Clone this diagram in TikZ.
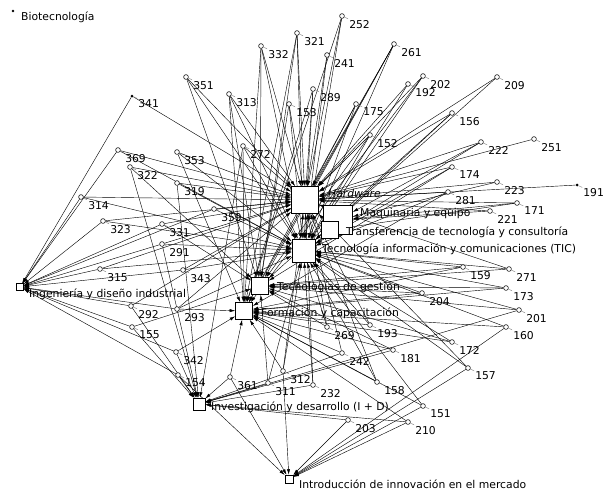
\documentclass[tikz,border=0pt]{standalone}
\usepackage{fontspec}
\setmainfont{DejaVu Sans}
\usetikzlibrary{arrows.meta,positioning}
\pgfdeclarelayer{edges}
\pgfsetlayers{edges,main}
\tikzset{
  tag/.style={font=\fontsize{10.8}{12}\selectfont, inner sep=1pt},
  hub/.style={draw, fill=white, line width=0.6pt, minimum size=#1, inner sep=0pt},
  item/.style={circle, draw, fill=white, line width=0.55pt, minimum size=4.8pt, inner sep=0pt},
  itemdot/.style={circle, fill, minimum size=3pt, inner sep=0pt},
  numpin/.style={pin={[tag, pin distance=4pt, pin edge={line width=0.4pt}]-25:#1}},
  link/.style={line width=0.42pt, -{Latex[length=5.5pt,width=3.2pt]}},
}
\begin{document}
\begin{tikzpicture}[x=1pt, y=-1pt]
\useasboundingbox (0,0) rectangle (605,490);
% categories
\node[itemdot, minimum size=2.6pt] (bio) at (13,11) {};
\node[tag, anchor=west] (biolab) at (20,17) {Biotecnología};
\node[hub=27pt] (hw) at (305,200) {};
\node[hub=29pt] (maq) at (338,220) {};
\node[hub=17pt] (tra) at (329.5,230) {};
\node[hub=23pt] (tic) at (303.5,250.5) {};
\node[hub=17pt] (ges) at (260,286) {};
\node[hub=17pt] (for) at (244,311) {};
\node[hub=6.5pt] (ing) at (20,287) {};
\node[hub=12pt] (imd) at (199,404) {};
\node[hub=8pt] (intro) at (289,479) {};
\node[tag, anchor=west] (hwlab) at (327,193) {\itshape Hardware};
\node[tag, anchor=west] (maqlab) at (359,214) {Maquinaria y equipo};
\node[tag, anchor=west] (tralab) at (345,232) {Transferencia de tecnología y consultoría};
\node[tag, anchor=west] (ticlab) at (321,249) {Tecnología información y comunicaciones (TIC)};
\node[tag, anchor=west] (geslab) at (276,287) {Tecnologías de gestión};
\node[tag, anchor=west] (forlab) at (260,313) {Formación y capacitación};
\node[tag, anchor=west] (inglab) at (28,294) {Ingeniería y diseño industrial};
\node[tag, anchor=west] (imdlab) at (210,407) {Investigación y desarrollo (I + D)};
\node[tag, anchor=west] (introlab) at (298,484) {Introducción de innovación en el mercado};
% indicators
\node[itemdot, numpin=341] (n341) at (132,96) {};
\node[itemdot, numpin=191] (n191) at (577,185) {};
\foreach \n/\x/\y in {351/186/77, 332/261/46, 321/297/33, 252/342/16, 241/327/55,
    289/313/89, 153/289/104, 175/356/104, 261/394/44, 202/423/76, 192/408/84,
    209/497/77, 156/452/113, 152/370/135, 222/481/142, 251/534/139, 313/229/94,
    272/243/146, 174/452/167, 223/497/182, 281/448/192, 171/517/203, 221/490/211,
    159/463/267, 271/509/269, 173/506/288, 204/422/293, 201/519/310, 160/506/327,
    172/452/342, 181/393/350, 157/468/368, 151/423/406, 210/408/422, 203/348/420,
    158/377/382, 193/370/325, 242/342/353, 269/327/327, 232/313/385, 312/283/371,
    311/268/383, 361/230/377, 154/178/375, 342/176/352, 155/132/327, 292/131/306,
    293/177/309, 343/183/270, 315/100/269, 291/162/244, 331/162/224, 323/103/221,
    359/214/209, 314/81/197, 319/177/183, 322/130/167, 369/118/150, 353/177/152}
  \node[item, numpin=\n] (n\n) at (\x,\y) {};
% links
\begin{pgfonlayer}{edges}
\foreach \n/\ts in {341/{ing,hw}, 351/{hw,tic,ges}, 332/{hw,tic,ges,for},
    321/{hw,tic,for,ges}, 252/{hw,tic,for}, 241/{hw,tic}, 289/{hw,tic,for},
    153/{hw,tic,ges}, 175/{hw,tic,for}, 261/{hw,tic,ges,for}, 202/{hw,tic,for},
    192/{hw,tic}, 209/{hw,tic}, 156/{hw,tic,ges}, 152/{hw,tic,ges}, 222/{hw,tic,maq},
    251/{hw}, 313/{hw,tic,ges,for}, 272/{hw,tic,for,imd}, 174/{hw,tic,ges},
    223/{hw,maq}, 191/{hw}, 281/{hw,tic,for}, 171/{hw,maq,tra}, 221/{maq,hw},
    159/{tic,ges,for}, 271/{hw,tic,ges}, 173/{tic,for,ges}, 204/{tic,ges,for},
    201/{tic,ges,imd}, 160/{tic,for,intro}, 172/{tic,ges,for}, 181/{for,imd,ges},
    157/{hw,tic,intro}, 151/{tic,for,intro}, 210/{for,imd,intro}, 158/{hw,tic,for},
    203/{imd,intro}, 232/{hw,tic,imd}, 193/{hw,tic,for}, 269/{hw,tic,ges},
    242/{hw,for,imd}, 312/{hw,tic,for,intro}, 311/{tic,ges,imd}, 361/{for,imd,intro},
    154/{ing,imd,intro}, 342/{ing,imd,for}, 155/{ing,imd,ges}, 292/{ing,hw,imd},
    293/{ing,hw,tic,for}, 343/{ing,hw,tic}, 315/{ing,hw,tic}, 291/{ing,hw,tic,imd},
    331/{ing,hw,ges}, 323/{ing,hw,tic}, 359/{ing,hw,tic}, 314/{ing,hw,tic},
    319/{hw,tic,imd}, 322/{hw,ges,imd}, 369/{ing,hw,tic}, 353/{hw,tic,for}}
  \foreach \t in \ts
    \draw[link] (n\n) -- (\t);
\end{pgfonlayer}
\end{tikzpicture}
\end{document}
